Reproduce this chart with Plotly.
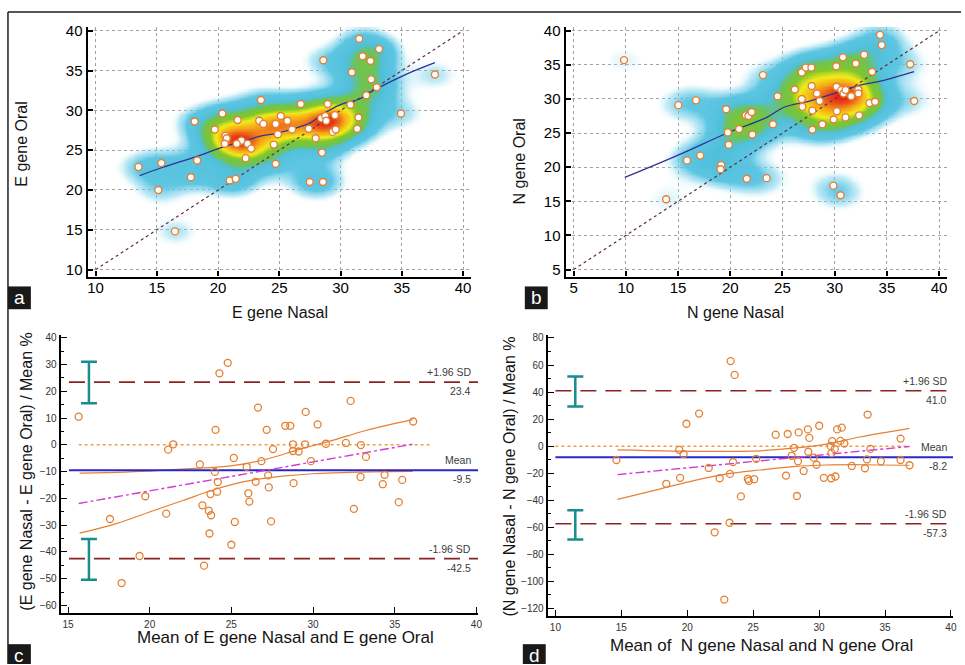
import numpy as np
import plotly.graph_objects as go

W, H = 965, 665
FONT = "Liberation Sans, Arial, sans-serif"

# ---------------- data ----------------
# panel a : E gene nasal vs oral
a_nasal = [13.5, 15.37, 15.12, 16.48, 17.78, 18.08, 18.29, 19.73, 20.35, 20.6, 20.7, 20.54, 20.95, 21.44,
           21.6, 21.9, 21.52, 22.25, 22.4, 22.7, 23.5, 23.36, 23.7, 24.7, 24.55, 24.7, 24.88, 25.12, 25.66,
           26.04, 26.75, 27.4, 27.48, 27.97, 28.48, 28.56, 28.59, 28.43, 28.75, 28.83, 28.94, 29.35, 29.6,
           29.54, 30.8, 30.92, 31.35, 31.46, 31.52, 31.8, 32.1, 32.44, 32.5, 32.95, 33.14, 34.93, 37.7]
a_oral = [22.9, 23.4, 20.0, 14.8, 21.6, 28.6, 23.7, 27.6, 29.6, 26.8, 26.5, 25.8, 21.2, 21.4,
          28.8, 26.2, 25.8, 24.0, 25.8, 25.2, 31.3, 28.7, 28.3, 28.3, 25.7, 23.3, 27.0, 29.3, 28.7,
          27.6, 30.8, 27.7, 21.0, 26.5, 24.7, 21.0, 36.3, 29.0, 29.3, 28.7, 30.8, 27.3, 27.6,
          29.4, 30.7, 34.8, 27.7, 29.1, 39.0, 36.8, 31.9, 36.2, 33.9, 32.9, 37.7, 29.6, 34.5]
a_loess_x = [13.6, 15.2, 18.2, 20.4, 22.0, 23.3, 25.0, 26.6, 27.5, 28.5, 30.1, 31.5, 32.8, 35.3, 37.7]
a_loess_y = [21.8, 22.7, 24.2, 25.4, 26.1, 26.7, 27.2, 27.9, 28.4, 29.5, 30.8, 31.4, 32.6, 34.5, 36.0]
a_identity = [10, 40]

# panel b : N gene nasal vs oral
b_nasal = [9.83, 13.86, 15.03, 15.86, 16.72, 17.13, 19.13, 19.07, 19.61, 19.77, 19.86, 20.85, 21.58, 21.48,
           21.74, 22.05, 22.12, 23.13, 23.48, 24.09, 24.53, 26.18, 26.85, 27.23, 27.77, 26.85, 26.91, 27.8,
           27.86, 27.86, 28.3, 28.56, 28.82, 29.9, 30.15, 30.18, 30.21, 30.63, 30.79, 30.85, 31.04, 31.04,
           31.58, 32.02, 32.27, 32.27, 32.34, 32.82, 33.33, 33.58, 33.87, 34.34, 34.5, 37.23, 37.61, 29.87, 30.56]
b_oral = [35.7, 15.3, 29.1, 21.0, 29.8, 21.7, 20.3, 19.7, 28.5, 25.1, 23.3, 25.6, 18.3, 27.6,
          27.5, 28.1, 24.8, 33.5, 18.4, 26.3, 30.4, 31.4, 33.9, 34.6, 34.6, 30.0, 28.85, 31.9,
          28.3, 25.5, 30.8, 29.7, 26.3, 27.0, 34.8, 31.8, 28.2, 31.3, 36.1, 30.8, 31.3, 27.3,
          30.4, 35.2, 31.4, 30.8, 27.6, 36.5, 29.4, 34.0, 29.6, 39.4, 37.9, 35.1, 29.7, 17.3, 15.9]
b_loess_x = [9.9, 14.9, 20.0, 23.5, 25.1, 27.6, 30.15, 32.1, 34.6, 37.6]
b_loess_y = [18.5, 21.7, 25.2, 27.3, 28.75, 29.7, 30.9, 31.9, 32.7, 34.0]
b_identity = [5, 40]

# panel c : Bland-Altman E gene
c_mean = [15.65, 17.57, 18.28, 19.38, 19.73, 21.01, 21.13, 21.44, 23.07, 23.23, 23.33, 23.62, 23.76, 23.66,
          23.72, 23.99, 24.03, 24.13, 24.17, 24.27, 24.78, 25.0, 25.15, 25.21, 25.94, 26.04, 26.1, 26.49,
          26.63, 26.84, 27.16, 27.25, 27.29, 27.43, 27.55, 28.3, 28.61, 28.77, 28.77, 28.81, 29.12, 29.51,
          29.55, 29.87, 30.28, 30.79, 32.01, 32.3, 32.5, 32.93, 32.91, 33.24, 34.27, 34.38, 35.25, 35.46, 36.13]
c_diff = [10.5, -27.7, -51.6, -41.5, -19.2, -25.7, -1.8, 0.2, -7.3, -22.6, -45.1, -24.6, -26.3, -33.1,
          -18.4, -10.1, 5.6, -17.5, -13.9, 26.7, 30.6, -37.3, -4.9, -28.8, -8.2, -18.1, -21.2, -13.8,
          13.9, -6.1, 5.6, -11.4, -15.9, -28.6, -1.6, 7.1, 7.1, 0.2, -2.3, -14.3, -2.5, 0.2,
          12.3, -6.1, 7.6, 0.4, 0.7, 16.4, -23.9, -0.1, -12.0, -4.5, -14.7, -11.2, -21.4, -13.1, 8.7]
c_stats = {"mean": -9.5, "upper": 23.4, "lower": -42.5}
c_upper_ci = [15.5, 31.0]
c_lower_ci = [-50.4, -35.2]
c_reg_x = [15.65, 36.09]
c_reg_y = [-21.9, 0.2]
c_ciu_x = [15.71, 18.5, 20.2, 23.05, 25.08, 27.12, 29.16, 31.2, 33.24, 36.09]
c_ciu_y = [-10.55, -10.2, -9.7, -8.7, -7.8, -5.4, -1.7, 1.65, 5.35, 9.4]
c_cil_x = [15.71, 17.95, 19.99, 22.03, 24.07, 26.1, 28.14, 30.18, 32.2, 33.64, 36.1]
c_cil_y = [-33.0, -29.4, -25.1, -20.8, -16.5, -13.4, -11.7, -10.7, -10.3, -10.1, -9.9]

# panel d : Bland-Altman N gene
d_mean = [14.63, 18.41, 19.39, 19.72, 19.46, 19.94, 20.9, 21.63, 22.08, 22.46, 22.81, 23.21, 23.24, 23.29,
          23.47, 23.59, 24.07, 24.6, 24.67, 25.08, 25.23, 26.71, 27.49, 27.62, 27.92, 28.1, 28.32, 28.4,
          28.45, 28.83, 29.15, 29.18, 29.26, 29.6, 29.81, 30.01, 30.36, 30.87, 30.92, 30.94, 30.99, 31.19,
          31.24, 31.37, 31.62, 31.72, 31.92, 32.48, 33.48, 33.63, 33.68, 33.89, 34.69, 36.18, 36.18, 36.86]
d_diff = [-10.2, -27.8, -2.7, -5.9, -23.4, 16.6, 24.1, -16.1, -63.7, -23.7, -113.4, -56.6, -20.5, 62.9,
          -11.7, 52.7, -37.1, -24.1, -25.6, -24.4, -9.3, 8.5, -21.7, 9.0, -7.1, -1.2, -36.8, -11.2,
          10.2, -18.3, 12.4, -4.1, 6.1, -8.5, -13.7, 15.1, -23.4, 0.2, -23.7, -5.1, 3.7, -2.2,
          -22.4, 12.4, 3.9, 13.7, 2.0, -14.6, -16.3, -9.8, 23.4, -2.0, -11.2, 5.6, -10.2, -14.1]
d_stats = {"mean": -8.2, "upper": 41.0, "lower": -57.3}
d_upper_ci = [29.3, 51.5]
d_lower_ci = [-69.0, -47.3]
d_reg_x = [14.71, 36.86]
d_reg_y = [-21.0, -0.2]
d_ciu_x = [14.71, 21.75, 25.53, 28.05, 30.56, 33.08, 36.86]
d_ciu_y = [-2.7, -3.9, -3.4, -1.5, 1.5, 6.8, 13.2]
d_cil_x = [14.71, 17.98, 20.5, 23.01, 25.53, 28.05, 30.56, 33.08, 36.86]
d_cil_y = [-39.3, -31.5, -25.4, -20.5, -17.6, -15.1, -13.9, -13.7, -14.1]

# ---------------- helpers ----------------
def px(x):
    return x / W

def py(y):
    return 1 - y / H

def kde(xs, ys, gx, gy, hx, hy):
    X, Y = np.meshgrid(gx, gy)
    Z = np.zeros_like(X)
    for x, y in zip(xs, ys):
        Z += np.exp(-0.5 * (((X - x) / hx) ** 2 + ((Y - y) / hy) ** 2))
    return Z / Z.max()

DENS_SCALE = [
    [0.0, "rgba(255,255,255,0)"],
    [0.06, "rgba(255,255,255,0)"],
    [0.12, "rgba(120,210,235,0.45)"],
    [0.20, "rgba(85,195,225,0.95)"],
    [0.36, "rgb(80,192,218)"],
    [0.44, "rgb(110,195,85)"],
    [0.58, "rgb(128,198,45)"],
    [0.70, "rgb(242,236,25)"],
    [0.84, "rgb(245,165,25)"],
    [1.0, "rgb(230,35,25)"],
]

ORANGE = "rgb(228,128,52)"
fig = go.Figure()

# ---- panel a ----
gxa = np.linspace(9.4, 40.6, 170)
gya = np.linspace(9.2, 40.4, 170)
fig.add_trace(go.Heatmap(x=gxa, y=gya, z=kde(a_nasal, a_oral, gxa, gya, 1.55, 1.55),
                         colorscale=DENS_SCALE, zmin=0, zmax=1, zsmooth="best", showscale=False,
                         hoverinfo="skip", xaxis="x", yaxis="y"))
fig.add_trace(go.Scatter(x=a_identity, y=a_identity, mode="lines",
                         line=dict(color="rgb(95,45,70)", width=1.2, dash="3px,3px"), xaxis="x", yaxis="y"))
fig.add_trace(go.Scatter(x=a_loess_x, y=a_loess_y, mode="lines", line=dict(color="rgb(50,50,150)", width=1.3),
                         line_shape="spline", xaxis="x", yaxis="y"))
fig.add_trace(go.Scatter(x=a_nasal, y=a_oral, mode="markers",
                         marker=dict(size=7, color="white", line=dict(color=ORANGE, width=1.4)),
                         xaxis="x", yaxis="y"))

# ---- panel b ----
gxb = np.linspace(4.3, 40.7, 180)
gyb = np.linspace(4.0, 40.5, 180)
fig.add_trace(go.Heatmap(x=gxb, y=gyb, z=kde(b_nasal, b_oral, gxb, gyb, 1.9, 2.0),
                         colorscale=DENS_SCALE, zmin=0, zmax=1, zsmooth="best", showscale=False,
                         hoverinfo="skip", xaxis="x2", yaxis="y2"))
fig.add_trace(go.Scatter(x=b_identity, y=b_identity, mode="lines",
                         line=dict(color="rgb(95,45,70)", width=1.2, dash="3px,3px"), xaxis="x2", yaxis="y2"))
fig.add_trace(go.Scatter(x=b_loess_x, y=b_loess_y, mode="lines", line=dict(color="rgb(50,50,150)", width=1.3),
                         line_shape="spline", xaxis="x2", yaxis="y2"))
fig.add_trace(go.Scatter(x=b_nasal, y=b_oral, mode="markers",
                         marker=dict(size=7, color="white", line=dict(color=ORANGE, width=1.4)),
                         xaxis="x2", yaxis="y2"))

# ---- Bland-Altman panels ----
def bland(xa, ya, xr, mean_x, diffs, stats, up_ci, lo_ci, bar_x, zero_x, reg_x, reg_y,
          ciu_x, ciu_y, cil_x, cil_y):
    maroon = "rgb(140,35,35)"
    for key in ("upper", "lower"):
        fig.add_trace(go.Scatter(x=xr, y=[stats[key]] * 2, mode="lines",
                                 line=dict(color=maroon, width=1.6, dash="16px,9px"), xaxis=xa, yaxis=ya))
    fig.add_trace(go.Scatter(x=zero_x, y=[0, 0], mode="lines",
                             line=dict(color="rgb(240,160,70)", width=1.5, dash="dot"), xaxis=xa, yaxis=ya))
    fig.add_trace(go.Scatter(x=ciu_x, y=ciu_y, mode="lines", line=dict(color=ORANGE, width=1.2),
                             line_shape="spline", xaxis=xa, yaxis=ya))
    fig.add_trace(go.Scatter(x=cil_x, y=cil_y, mode="lines", line=dict(color=ORANGE, width=1.2),
                             line_shape="spline", xaxis=xa, yaxis=ya))
    fig.add_trace(go.Scatter(x=xr, y=[stats["mean"]] * 2, mode="lines",
                             line=dict(color="rgb(40,40,200)", width=2), xaxis=xa, yaxis=ya))
    fig.add_trace(go.Scatter(x=reg_x, y=reg_y, mode="lines",
                             line=dict(color="rgb(210,60,210)", width=1.4, dash="dashdot"), xaxis=xa, yaxis=ya))
    for ci in (up_ci, lo_ci):
        c = (ci[0] + ci[1]) / 2
        h = (ci[1] - ci[0]) / 2
        fig.add_trace(go.Scatter(x=[bar_x], y=[c], mode="markers", marker=dict(size=1, opacity=0),
                                 error_y=dict(type="data", array=[h], color="rgb(25,140,140)",
                                              thickness=2.5, width=8),
                                 xaxis=xa, yaxis=ya))
    fig.add_trace(go.Scatter(x=mean_x, y=diffs, mode="markers",
                             marker=dict(size=7, color="rgba(0,0,0,0)", line=dict(color=ORANGE, width=1.3)),
                             xaxis=xa, yaxis=ya))

bland("x3", "y3", [15.06, 40.1], c_mean, c_diff, c_stats, c_upper_ci, c_lower_ci, 16.28,
      [15.65, 37.3], c_reg_x, c_reg_y, c_ciu_x, c_ciu_y, c_cil_x, c_cil_y)
bland("x4", "y4", [10.0, 40.16], d_mean, d_diff, d_stats, d_upper_ci, d_lower_ci, 11.51,
      [10.0, 36.86], d_reg_x, d_reg_y, d_ciu_x, d_ciu_y, d_cil_x, d_cil_y)

# ---------------- axes ----------------
def ax_top(domain, rng, dtick, anchor, standoff=0):
    return dict(domain=domain, range=rng, dtick=dtick, tick0=0, showline=True, linecolor="black",
                linewidth=2.2, ticks="inside", ticklen=5, tickwidth=1.5, tickcolor="black",
                showgrid=True, gridcolor="rgb(160,160,160)", griddash="dot", gridwidth=1,
                ticklabelstandoff=standoff,
                zeroline=False, anchor=anchor, tickfont=dict(size=15, color="black", family=FONT))

def ax_bot(domain, rng, dtick, anchor, minor_dtick=None):
    d = dict(domain=domain, range=rng, dtick=dtick, tick0=0, showline=True, linecolor="black",
             linewidth=2.2, ticks="inside", ticklen=6, tickwidth=1.3, tickcolor="black",
             showgrid=False, zeroline=False, anchor=anchor,
             tickfont=dict(size=10, color="rgb(50,50,50)", family=FONT))
    if minor_dtick:
        d["minor"] = dict(dtick=minor_dtick, ticks="inside", ticklen=3, tickcolor="black")
    return d

fig.update_layout(
    width=W, height=H, margin=dict(l=0, r=0, t=0, b=0),
    paper_bgcolor="white", plot_bgcolor="white", showlegend=False,
    font=dict(family=FONT),
    xaxis=ax_top([px(88), px(473)], [9.35, 40.65], 5, "y", -4),
    yaxis=ax_top([py(274), py(22)], [9.13, 40.5], 5, "x"),
    xaxis2=ax_top([px(568), px(951)], [4.24, 40.76], 5, "y2", -4),
    yaxis2=ax_top([py(274), py(22)], [3.98, 40.58], 5, "x2"),
    xaxis3=ax_bot([px(61), px(480)], [14.555, 40.1], 5, "y3"),
    yaxis3=ax_bot([py(614), py(333)], [-62.96, 41.0], 10, "x3", 5),
    xaxis4=ax_bot([px(550), px(957)], [9.418, 40.16], 5, "y4"),
    yaxis4=ax_bot([py(617), py(333)], [-125.85, 82.2], 20, "x4", 10),
)

# ---------------- annotations ----------------
ann = []
def title(text, x, y, size, angle=0):
    ann.append(dict(text=text, x=px(x), y=py(y), xref="paper", yref="paper", showarrow=False,
                    textangle=angle, xanchor="center", yanchor="middle",
                    font=dict(size=size, color="rgb(20,20,20)", family=FONT)))

title("E gene Nasal", 281, 310, 16)
title("E gene Oral", 22, 140, 16, -90)
title("N gene Nasal", 739, 310, 16)
title("N gene Oral", 522, 158, 16, -90)
title("Mean of E gene Nasal and E gene Oral", 287, 638, 17)
title("(E gene Nasal - E gene Oral) / Mean %", 27, 471, 16, -90)
title("Mean of  N gene Nasal and N gene Oral", 765, 646, 17)
title("(N gene Nasal - N gene Oral) / Mean %", 512, 476, 16, -90)

def ba_labels(yref, xr_px, stats):
    for key, lab in (("upper", "+1.96 SD"), ("mean", "Mean"), ("lower", "-1.96 SD")):
        v = stats[key]
        ann.append(dict(text=lab, x=px(xr_px), y=v, xref="paper", yref=yref, showarrow=False,
                        xanchor="right", yanchor="bottom", yshift=2,
                        font=dict(size=10.5, color="rgb(60,60,60)", family=FONT)))
        ann.append(dict(text=f"{v:.1f}", x=px(xr_px), y=v, xref="paper", yref=yref, showarrow=False,
                        xanchor="right", yanchor="top", yshift=-1,
                        font=dict(size=10.5, color="rgb(60,60,60)", family=FONT)))

ba_labels("y3", 475, c_stats)
ba_labels("y4", 953, d_stats)

shapes = []
for lab, x0, y0, y1, ty in (("a", 8, 284, 307, 295.5), ("b", 527, 284, 307, 295.5),
                            ("c", 8, 645, 665, 656), ("d", 525, 645, 665, 656)):
    shapes.append(dict(type="rect", xref="paper", yref="paper", x0=px(x0), x1=px(x0 + 23),
                       y0=py(y1), y1=py(y0), fillcolor="rgb(25,25,25)", line=dict(width=0)))
    ann.append(dict(text=lab, x=px(x0 + 11.5), y=py(ty), xref="paper", yref="paper", showarrow=False,
                    xanchor="center", yanchor="middle",
                    font=dict(size=19, color="white", family=FONT)))

shapes.append(dict(type="line", xref="paper", yref="paper", x0=px(8), x1=1, y0=py(7), y1=py(7),
                   line=dict(color="rgb(30,30,30)", width=1.5)))
shapes.append(dict(type="line", xref="paper", yref="paper", x0=px(8), x1=px(8), y0=py(7), y1=0,
                   line=dict(color="rgb(30,30,30)", width=1.5)))

fig.update_layout(annotations=ann, shapes=shapes)

fig.write_html("out.html", config={"displayModeBar": False},
               post_script="document.body.style.margin='0';document.body.style.padding='0';"
                           "document.body.style.overflow='hidden';")
